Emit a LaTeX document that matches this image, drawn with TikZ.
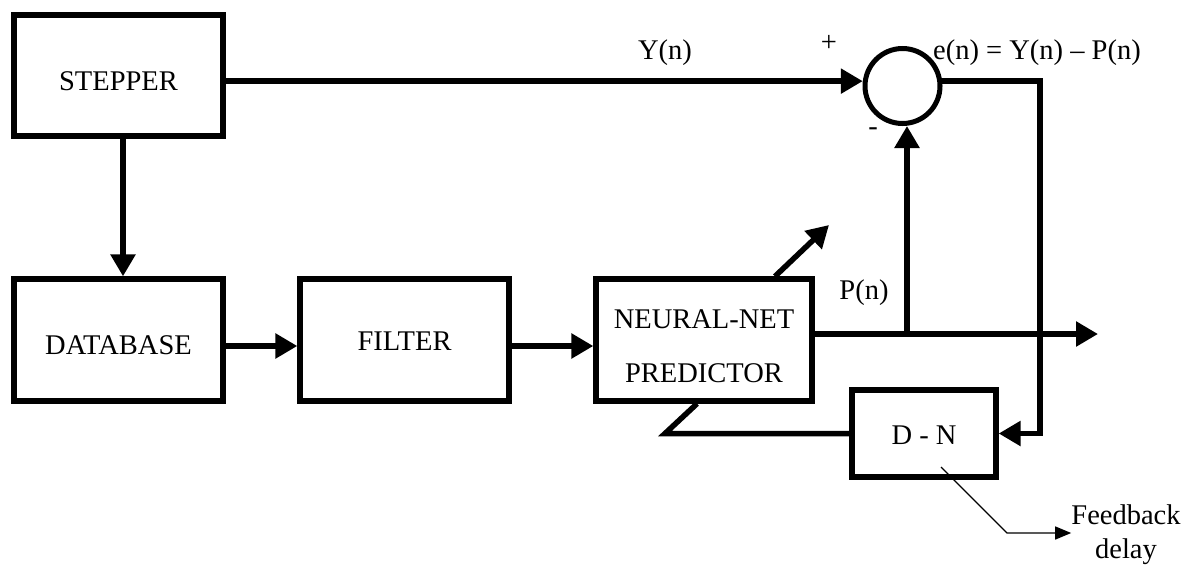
\documentclass[tikz,border=0pt]{standalone}
\usepackage{fontspec}
\setmainfont{Liberation Serif}
\usetikzlibrary{arrows.meta}
\begin{document}
\begin{tikzpicture}[x=1pt,y=-1pt,
  every node/.style={font=\fontsize{28.5}{34}\selectfont, inner sep=0pt},
  blk/.style={draw, line width=5.3pt, rectangle, minimum width=#1, minimum height=122pt},
  conn/.style={line width=5.5pt, -{Triangle[length=22pt,width=24pt]}},
  plainconn/.style={line width=5.5pt},
  thinarr/.style={line width=1.4pt, -{Triangle[length=16pt,width=13pt]}}]
\useasboundingbox (0,0) rectangle (1188,568);
% blocks
\node[blk=209pt, minimum height=121pt, text height=29pt, text depth=0pt] (stepper) at (118.5,75.5) {STEPPER};
\node[blk=209pt, text height=28pt, text depth=0pt] (database) at (118.5,340) {DATABASE};
\node[blk=209pt, text height=20pt, text depth=0pt] (filter) at (404.5,340) {FILTER};
\node[blk=216pt, align=center, font=\fontsize{28.5}{54}\selectfont] (nn) at (704,340) {\rule{0pt}{31pt}NEURAL-NET\\PREDICTOR};
\node[blk=144pt, minimum height=87pt, text height=22pt, text depth=0pt] (dn) at (924,433.5) {D - N};
\node[draw, circle, line width=5pt, minimum size=75pt] (sum) at (902.5,86) {};
% labels
\node (yn) at (665,53) {Y(n)};
\node (plus) at (829,43) {+};
\node (minus) at (873,132) {-};
\node[anchor=west] (en) at (933,53) {e(n) = Y(n) – P(n)};
\node (pn) at (864,293) {P(n)};
\node[align=center] (fbtext) at (1126,535) {Feedback\\delay};
% connectors
\draw[conn] (stepper.east |- sum.173) -- (sum.173);
\draw[conn] ([xshift=4.5pt]stepper.south) -- ([xshift=4.5pt]database.north);
\draw[conn] ([yshift=-6pt]database.east) -- ([yshift=-6pt]filter.west);
\draw[conn] ([yshift=-6pt]filter.east) -- ([yshift=-6pt]nn.west);
\coordinate (out) at (1098,334);
\draw[conn] (nn.east |- out) -- (out);
\coordinate (tap) at (907,334);
\draw[conn] (tap) -- (tap |- sum.south);
\coordinate (corner) at (1040,433.5);
\draw[conn] (sum.7) -| (corner) -- (dn.east);
\coordinate (fbend) at (665,433.5);
\draw[plainconn] (dn.west) -- (fbend) -- ([xshift=-7pt]nn.south);
\coordinate (adapt) at (829,225);
\draw[conn] ([xshift=71pt]nn.north) -- (adapt);
\coordinate (ptr) at (941,467);
\coordinate (pbend) at (1007,533);
\draw[thinarr] (ptr) -- (pbend) -- (pbend -| fbtext.west);
\end{tikzpicture}
\end{document}
